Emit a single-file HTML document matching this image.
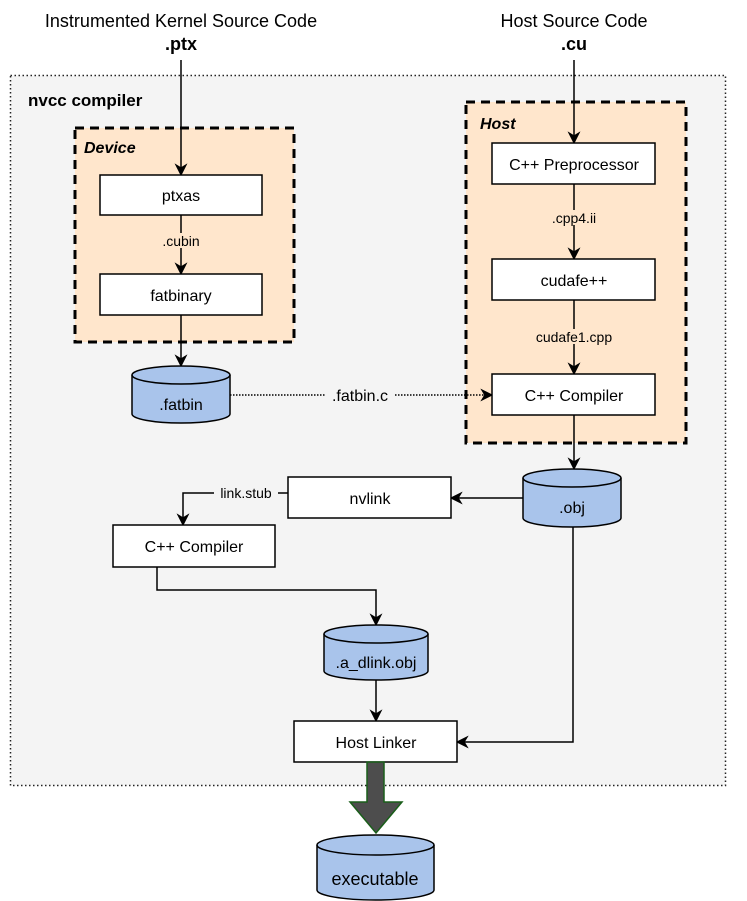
<!DOCTYPE html>
<html><head><meta charset="utf-8"><style>
html,body{margin:0;padding:0;background:#fff;}
svg{display:block;font-family:"Liberation Sans",Helvetica,Arial,sans-serif;}
</style></head><body>
<svg width="747" height="901" viewBox="0 0 747 901" xmlns="http://www.w3.org/2000/svg">
<defs>
<marker id="ar" viewBox="0 0 10 10" refX="9" refY="5" markerWidth="13" markerHeight="13" markerUnits="userSpaceOnUse" orient="auto">
<path d="M0,0 L10,5 L0,10 L3,5 Z" fill="#000"/>
</marker>
</defs>
<!-- outer -->
<rect x="10.5" y="75.5" width="715" height="710" fill="#f4f4f4" stroke="#222" stroke-width="1.5" stroke-dasharray="1.5,2.5"/>
<text x="28" y="106" font-size="17" font-weight="bold">nvcc compiler</text>
<!-- titles -->
<text x="181" y="27" font-size="18" text-anchor="middle">Instrumented Kernel Source Code</text>
<text x="181" y="50" font-size="18" font-weight="bold" text-anchor="middle">.ptx</text>
<text x="574" y="27" font-size="18" text-anchor="middle">Host Source Code</text>
<text x="574" y="50" font-size="18" font-weight="bold" text-anchor="middle">.cu</text>
<!-- device -->
<rect x="75" y="128" width="219" height="214" fill="#ffe6cc" stroke="#000" stroke-width="3" stroke-dasharray="9,6"/>
<text x="84" y="153" font-size="16" font-weight="bold" font-style="italic">Device</text>
<!-- host -->
<rect x="466" y="102" width="220" height="341" fill="#ffe6cc" stroke="#000" stroke-width="3" stroke-dasharray="9,6"/>
<text x="480" y="129" font-size="16" font-weight="bold" font-style="italic">Host</text>
<g fill="none" stroke="#000" stroke-width="1.5">
<line x1="181" y1="60" x2="181" y2="175" marker-end="url(#ar)"/>
<line x1="181" y1="215" x2="181" y2="274" marker-end="url(#ar)"/>
<line x1="181" y1="315" x2="181" y2="366" marker-end="url(#ar)"/>
<line x1="574" y1="60" x2="574" y2="143" marker-end="url(#ar)"/>
<line x1="574" y1="184" x2="574" y2="259" marker-end="url(#ar)"/>
<line x1="574" y1="300" x2="574" y2="374" marker-end="url(#ar)"/>
<line x1="574" y1="415" x2="574" y2="469" marker-end="url(#ar)"/>
<line x1="523" y1="498" x2="451" y2="498" marker-end="url(#ar)"/>
<polyline points="288,493 183,493 183,525" marker-end="url(#ar)"/>
<polyline points="157,567 157,590 376,590 376,625" marker-end="url(#ar)"/>
<line x1="376" y1="680" x2="376" y2="721" marker-end="url(#ar)"/>
<polyline points="573,527 573,742 457,742" marker-end="url(#ar)"/>
<line x1="230" y1="395" x2="492" y2="395" stroke-dasharray="1.5,1.5" marker-end="url(#ar)"/>
</g>
<!-- edge labels -->
<g font-size="14" text-anchor="middle">
<rect x="156" y="233" width="50" height="15" fill="#ffe6cc"/>
<text x="181" y="246">.cubin</text>
<rect x="543" y="210" width="62" height="15" fill="#ffe6cc"/>
<text x="574" y="223">.cpp4.ii</text>
<rect x="530" y="329" width="88" height="15" fill="#ffe6cc"/>
<text x="574" y="342">cudafe1.cpp</text>
<rect x="325" y="386" width="70" height="18" fill="#f4f4f4"/>
<text x="360" y="401" font-size="16">.fatbin.c</text>
<rect x="214" y="485" width="64" height="15" fill="#f4f4f4"/>
<text x="246" y="498">link.stub</text>
</g>
<!-- boxes -->
<g fill="#fff" stroke="#000" stroke-width="1.5">
<rect x="100" y="175" width="162" height="40"/>
<rect x="100" y="274" width="162" height="41"/>
<rect x="492" y="143" width="163" height="41"/>
<rect x="492" y="259" width="163" height="41"/>
<rect x="492" y="374" width="163" height="41"/>
<rect x="288" y="477" width="163" height="41"/>
<rect x="113" y="525" width="162" height="42"/>
<rect x="294" y="721" width="163" height="41"/>
</g>
<g font-size="16" text-anchor="middle">
<text x="181" y="201">ptxas</text>
<text x="181" y="301">fatbinary</text>
<text x="574" y="170">C++ Preprocessor</text>
<text x="574" y="286">cudafe++</text>
<text x="574" y="401">C++ Compiler</text>
<text x="370" y="504">nvlink</text>
<text x="194" y="552">C++ Compiler</text>
<text x="376" y="748">Host Linker</text>
</g>
<!-- cylinders -->
<g fill="#a9c4eb" stroke="#000" stroke-width="1.5">
<path d="M132,375 L132,414 A49,9 0 0 0 230,414 L230,375 A49,9 0 0 0 132,375 Z"/>
<path d="M132,375 A49,9 0 0 0 230,375" fill="none"/>
<path d="M523,478 L523,518 A49,9 0 0 0 621,518 L621,478 A49,9 0 0 0 523,478 Z"/>
<path d="M523,478 A49,9 0 0 0 621,478" fill="none"/>
<path d="M324,634 L324,671 A52,9 0 0 0 428,671 L428,634 A52,9 0 0 0 324,634 Z"/>
<path d="M324,634 A52,9 0 0 0 428,634" fill="none"/>
<path d="M317,845 L317,890 A58.5,10 0 0 0 434,890 L434,845 A58.5,10 0 0 0 317,845 Z"/>
<path d="M317,845 A58.5,10 0 0 0 434,845" fill="none"/>
</g>
<g font-size="16" text-anchor="middle">
<text x="181" y="410">.fatbin</text>
<text x="572" y="513">.obj</text>
<text x="376" y="668">.a_dlink.obj</text>
<text x="375" y="885" font-size="18">executable</text>
</g>
<!-- big arrow -->
<path d="M367,762 L384,762 L384,802 L402,802 L376,833 L350,802 L367,802 Z" fill="#4d4d4d" stroke="#1a5e1a" stroke-width="1.5"/>
</svg>
</body></html>
